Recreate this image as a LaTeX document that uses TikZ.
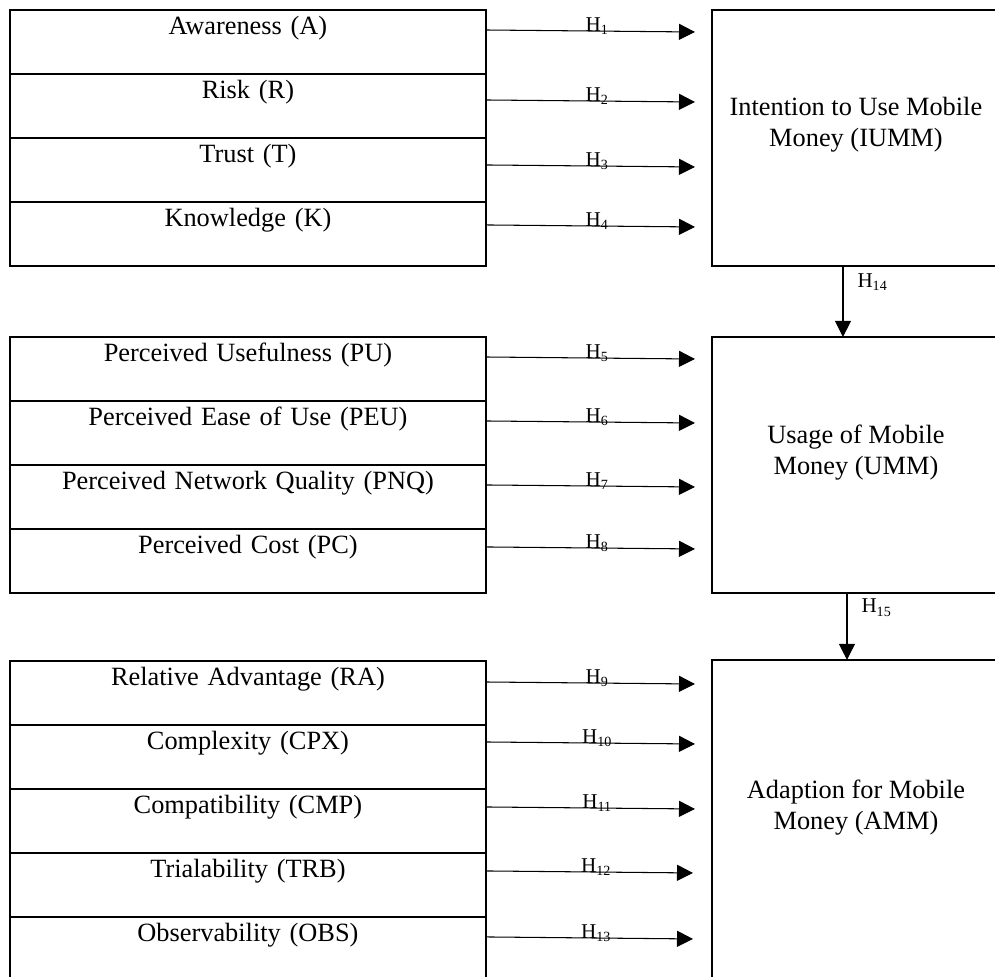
\documentclass[tikz,border=0pt]{standalone}
\usepackage{fontspec}
\setmainfont{Liberation Serif}
\usetikzlibrary{arrows.meta,positioning,calc}

\tikzset{
  factor/.style={rectangle,draw,line width=1.1pt,outer sep=0pt,inner sep=0pt,
                 text width=9.52cm,align=center,text height=0.5cm,text depth=0.78cm,
                 minimum height=1.28cm,font=\fontsize{15}{17.5}\selectfont},
  outcome/.style={rectangle,draw,line width=1.1pt,outer sep=0pt,inner sep=0pt,
                  minimum width=5.76cm,minimum height=5.12cm},
  outtext/.style={align=center,inner sep=0pt,font=\fontsize{15}{17.5}\selectfont},
  hyparrow/.style={-{Triangle[length=0.32cm,width=0.32cm]},line width=0.6pt},
  hyplabel/.style={pos=0.53,anchor=base,inner sep=0pt,font=\fontsize{12}{14}\selectfont},
  vlabel/.style={pos=0.3,anchor=base west,xshift=0.28cm,inner sep=0pt,
                 font=\fontsize{12}{14}\selectfont}
}

\begin{document}
\begin{tikzpicture}[x=0.02cm,y=-0.02cm]
  \useasboundingbox[fill=white] (0,0) rectangle (995,977);
  \clip (0,0) rectangle (995,977);

  % outcome boxes (right column)
  \node[outcome,anchor=north west] (iumm) at (712,10) {};
  \node[outcome,below=1.42cm of iumm] (umm) {};
  \node[outcome,minimum height=6.4cm,below=1.34cm of umm] (amm) {};
  \node[outtext] (iummtext) at ([yshift=0.26cm]iumm.center)
    {Intention to Use Mobile\\Money (IUMM)};
  \node[outtext] (ummtext) at ([yshift=0.25cm]umm.center)
    {Usage of Mobile\\Money (UMM)};
  \node[outtext] (ammtext) at ([yshift=0.24cm]amm.center)
    {Adaption for Mobile\\Money (AMM)};

  % first block
  \node[factor,anchor=north west] (aw) at (10,10) {Awareness (A)};
  \node[factor,below=0pt of aw] (rk) {Risk (R)};
  \node[factor,below=0pt of rk] (tr) {Trust (T)};
  \node[factor,below=0pt of tr] (kn) {Knowledge (K)};

  % second block
  \node[factor,anchor=north west] (pu) at (10,337) {Perceived Usefulness (PU)};
  \node[factor,below=0pt of pu] (peu) {Perceived Ease of Use (PEU)};
  \node[factor,below=0pt of peu] (pnq) {Perceived Network Quality (PNQ)};
  \node[factor,below=0pt of pnq] (pc) {Perceived Cost (PC)};

  % third block
  \node[factor,anchor=north west] (ra) at (10,661) {Relative Advantage (RA)};
  \node[factor,below=0pt of ra] (cpx) {Complexity (CPX)};
  \node[factor,below=0pt of cpx] (cmp) {Compatibility (CMP)};
  \node[factor,below=0pt of cmp] (trb) {Trialability (TRB)};
  \node[factor,below=0pt of trb] (obs) {Observability (OBS)};

  % hypotheses H1--H4
  \draw[hyparrow] ($(aw.north east)+(1,20)$) -- ($(aw.north east -| iumm.west)+(-17,22)$)
    node[hyplabel]{H\textsubscript{1}};
  \draw[hyparrow] ($(rk.north east)+(1,26)$) -- ($(rk.north east -| iumm.west)+(-17,28)$)
    node[hyplabel]{H\textsubscript{2}};
  \draw[hyparrow] ($(tr.north east)+(1,27)$) -- ($(tr.north east -| iumm.west)+(-17,29)$)
    node[hyplabel]{H\textsubscript{3}};
  \draw[hyparrow] ($(kn.north east)+(1,23)$) -- ($(kn.north east -| iumm.west)+(-17,25)$)
    node[hyplabel]{H\textsubscript{4}};

  % hypotheses H5--H8
  \draw[hyparrow] ($(pu.north east)+(1,20)$) -- ($(pu.north east -| umm.west)+(-17,22)$)
    node[hyplabel]{H\textsubscript{5}};
  \draw[hyparrow] ($(peu.north east)+(1,20)$) -- ($(peu.north east -| umm.west)+(-17,22)$)
    node[hyplabel]{H\textsubscript{6}};
  \draw[hyparrow] ($(pnq.north east)+(1,20)$) -- ($(pnq.north east -| umm.west)+(-17,22)$)
    node[hyplabel]{H\textsubscript{7}};
  \draw[hyparrow] ($(pc.north east)+(1,18)$) -- ($(pc.north east -| umm.west)+(-17,20)$)
    node[hyplabel]{H\textsubscript{8}};

  % hypotheses H9--H13
  \draw[hyparrow] ($(ra.north east)+(1,21)$) -- ($(ra.north east -| amm.west)+(-17,23)$)
    node[hyplabel]{H\textsubscript{9}};
  \draw[hyparrow] ($(cpx.north east)+(1,17)$) -- ($(cpx.north east -| amm.west)+(-17,19)$)
    node[hyplabel]{H\textsubscript{10}};
  \draw[hyparrow] ($(cmp.north east)+(1,18)$) -- ($(cmp.north east -| amm.west)+(-17,20)$)
    node[hyplabel]{H\textsubscript{11}};
  \draw[hyparrow] ($(trb.north east)+(1,18)$) -- ($(trb.north east -| amm.west)+(-19,20)$)
    node[hyplabel]{H\textsubscript{12}};
  \draw[hyparrow] ($(obs.north east)+(1,20)$) -- ($(obs.north east -| amm.west)+(-19,22)$)
    node[hyplabel]{H\textsubscript{13}};

  % H14, H15
  \draw[hyparrow] ($(iumm.south)+(-13,0)$) -- ($(umm.north)+(-13,0)$)
    node[vlabel]{H\textsubscript{14}};
  \draw[hyparrow] ($(umm.south)+(-9,0)$) -- ($(amm.north)+(-9,0)$)
    node[vlabel]{H\textsubscript{15}};
\end{tikzpicture}
\end{document}
